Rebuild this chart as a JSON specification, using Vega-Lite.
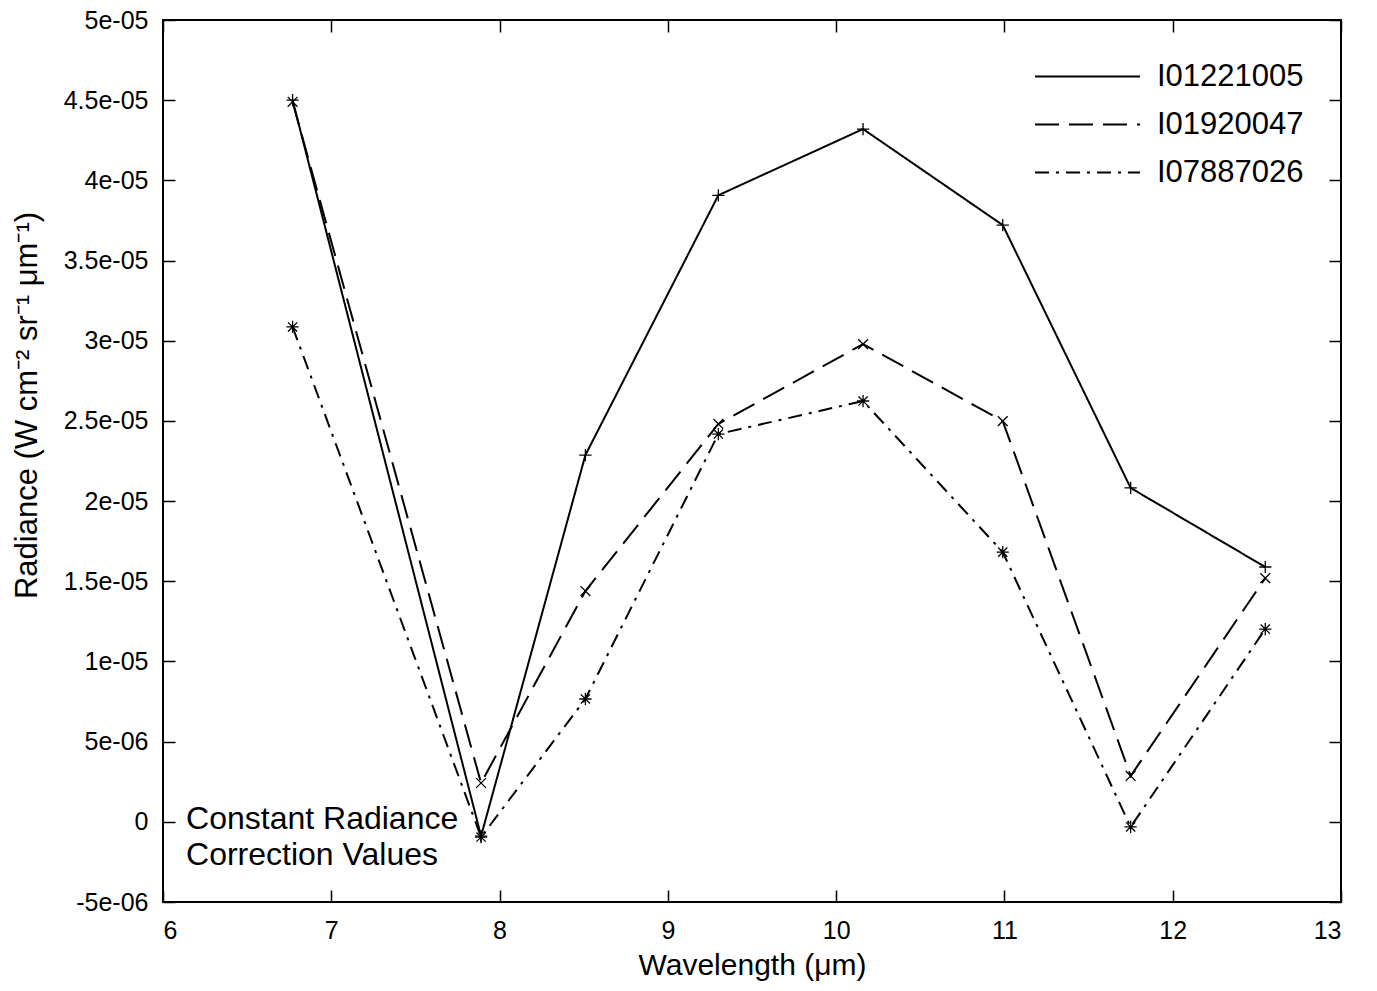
{
  "$schema": "https://vega.github.io/schema/vega-lite/v6.json",
  "autosize": "none",
  "padding": {"left": 163, "top": 20, "right": 36, "bottom": 89},
  "width": 1178,
  "height": 882,
  "background": "white",
  "config": {
    "font": "Liberation Sans",
    "view": {"stroke": "black", "strokeWidth": 2},
    "axis": {"grid": false, "domain": false, "tickColor": "black", "tickWidth": 1.5, "labelColor": "black", "titleColor": "black", "labelFont": "Liberation Sans", "titleFont": "Liberation Sans", "titleFontWeight": "normal"}
  },
  "datasets": {
    "spectra": [
      {"wavelength": 6.77, "radiance": 4.50e-05, "series": "I01221005"},
      {"wavelength": 7.89, "radiance": -0.89e-06, "series": "I01221005"},
      {"wavelength": 8.51, "radiance": 2.287e-05, "series": "I01221005"},
      {"wavelength": 9.30, "radiance": 3.907e-05, "series": "I01221005"},
      {"wavelength": 10.16, "radiance": 4.320e-05, "series": "I01221005"},
      {"wavelength": 10.99, "radiance": 3.721e-05, "series": "I01221005"},
      {"wavelength": 11.75, "radiance": 2.082e-05, "series": "I01221005"},
      {"wavelength": 12.55, "radiance": 1.589e-05, "series": "I01221005"},
      {"wavelength": 6.77, "radiance": 4.49e-05, "series": "I01920047"},
      {"wavelength": 7.89, "radiance": 2.42e-06, "series": "I01920047"},
      {"wavelength": 8.51, "radiance": 1.439e-05, "series": "I01920047"},
      {"wavelength": 9.30, "radiance": 2.481e-05, "series": "I01920047"},
      {"wavelength": 10.16, "radiance": 2.979e-05, "series": "I01920047"},
      {"wavelength": 10.99, "radiance": 2.499e-05, "series": "I01920047"},
      {"wavelength": 11.75, "radiance": 2.86e-06, "series": "I01920047"},
      {"wavelength": 12.55, "radiance": 1.520e-05, "series": "I01920047"},
      {"wavelength": 6.77, "radiance": 3.086e-05, "series": "I07887026"},
      {"wavelength": 7.89, "radiance": -0.95e-06, "series": "I07887026"},
      {"wavelength": 8.51, "radiance": 7.66e-06, "series": "I07887026"},
      {"wavelength": 9.30, "radiance": 2.418e-05, "series": "I07887026"},
      {"wavelength": 10.16, "radiance": 2.624e-05, "series": "I07887026"},
      {"wavelength": 10.99, "radiance": 1.682e-05, "series": "I07887026"},
      {"wavelength": 11.75, "radiance": -0.32e-06, "series": "I07887026"},
      {"wavelength": 12.55, "radiance": 1.202e-05, "series": "I07887026"}
    ],
    "note": [
      {"wavelength": 6.137, "radiance": -0.45e-06, "text": "Constant Radiance\nCorrection Values"}
    ]
  },
  "resolve": {"axis": {"x": "independent", "y": "independent"}},
  "layer": [
    {
      "data": {"name": "spectra"},
      "mark": {"type": "line", "strokeWidth": 2, "color": "black"},
      "encoding": {
        "x": {"field": "wavelength", "type": "quantitative",
              "scale": {"domain": [6, 13], "nice": false, "zero": false},
              "axis": {"orient": "bottom", "values": [6,7,8,9,10,11,12,13], "tickSize": -12, "labelPadding": 28, "labelFontSize": 25, "format": "d",
                       "title": "Wavelength (μm)", "titleFontSize": 30, "titlePadding": 7}},
        "y": {"field": "radiance", "type": "quantitative",
              "scale": {"domain": [-5e-06, 5e-05], "nice": false, "zero": false},
              "axis": {"orient": "left", "values": [-5e-06, 0, 5e-06, 1e-05, 1.5e-05, 2e-05, 2.5e-05, 3e-05, 3.5e-05, 4e-05, 4.5e-05, 5e-05],
                       "tickSize": -12, "labelPadding": 27, "labelFontSize": 25,
                       "labelExpr": "datum.value == 0 ? '0' : replace(replace(format(datum.value, '~e'), regexp('e-(\\\\d)$'), 'e-0$1'), '\u2212', '-')",
                       "title": "Radiance (W cm⁻² sr⁻¹ μm⁻¹)", "titleFontSize": 31,
                       "titleX": -136, "titleY": 385, "titleAngle": -90, "titleAlign": "center", "titleBaseline": "middle"}},
        "strokeDash": {"field": "series", "type": "nominal",
                       "scale": {"domain": ["I01221005", "I01920047", "I07887026"], "range": [[1, 0], [24, 10], [14, 7, 3, 7]]},
                       "legend": {"title": null, "orient": "none", "legendX": 909, "legendY": 41, "symbolType": "M-5,0L5,0", "symbolSize": 441,
                                  "symbolStrokeWidth": 2, "symbolStrokeColor": "black", "symbolFillColor": "transparent", "labelFontSize": 31, "labelFont": "Liberation Sans",
                                  "labelColor": "black", "labelOffset": 54, "padding": 0, "rowPadding": 16}}
      }
    },
    {
      "data": {"name": "spectra"},
      "transform": [{"filter": "datum.series == 'I01221005'"}],
      "mark": {"type": "point", "filled": false, "color": "black", "strokeWidth": 1.3, "size": 150, "opacity": 1, "shape": "M-1,0L1,0M0,-1L0,1"},
      "encoding": {
        "x": {"field": "wavelength", "type": "quantitative",
              "axis": {"orient": "top", "values": [6,7,8,9,10,11,12,13], "tickSize": -12, "labels": false, "title": null}},
        "y": {"field": "radiance", "type": "quantitative",
              "axis": {"orient": "right", "values": [-5e-06, 0, 5e-06, 1e-05, 1.5e-05, 2e-05, 2.5e-05, 3e-05, 3.5e-05, 4e-05, 4.5e-05, 5e-05], "tickSize": -12, "labels": false, "title": null}}
      }
    },
    {
      "data": {"name": "spectra"},
      "transform": [{"filter": "datum.series == 'I01920047'"}],
      "mark": {"type": "point", "filled": false, "color": "black", "strokeWidth": 1.3, "size": 150, "opacity": 1, "shape": "M-0.8,-0.8L0.8,0.8M-0.8,0.8L0.8,-0.8"},
      "encoding": {
        "x": {"field": "wavelength", "type": "quantitative", "axis": null},
        "y": {"field": "radiance", "type": "quantitative", "axis": null}
      }
    },
    {
      "data": {"name": "spectra"},
      "transform": [{"filter": "datum.series == 'I07887026'"}],
      "mark": {"type": "point", "filled": false, "color": "black", "strokeWidth": 1.3, "size": 150, "opacity": 1, "shape": "M-1,0L1,0M0,-1L0,1M-0.75,-0.75L0.75,0.75M-0.75,0.75L0.75,-0.75"},
      "encoding": {
        "x": {"field": "wavelength", "type": "quantitative", "axis": null},
        "y": {"field": "radiance", "type": "quantitative", "axis": null}
      }
    },
    {
      "data": {"name": "note"},
      "mark": {"type": "text", "align": "left", "baseline": "alphabetic", "fontSize": 32, "lineBreak": "\n", "lineHeight": 36, "color": "black"},
      "encoding": {
        "x": {"field": "wavelength", "type": "quantitative", "axis": null},
        "y": {"field": "radiance", "type": "quantitative", "axis": null},
        "text": {"field": "text"}
      }
    }
  ]
}
